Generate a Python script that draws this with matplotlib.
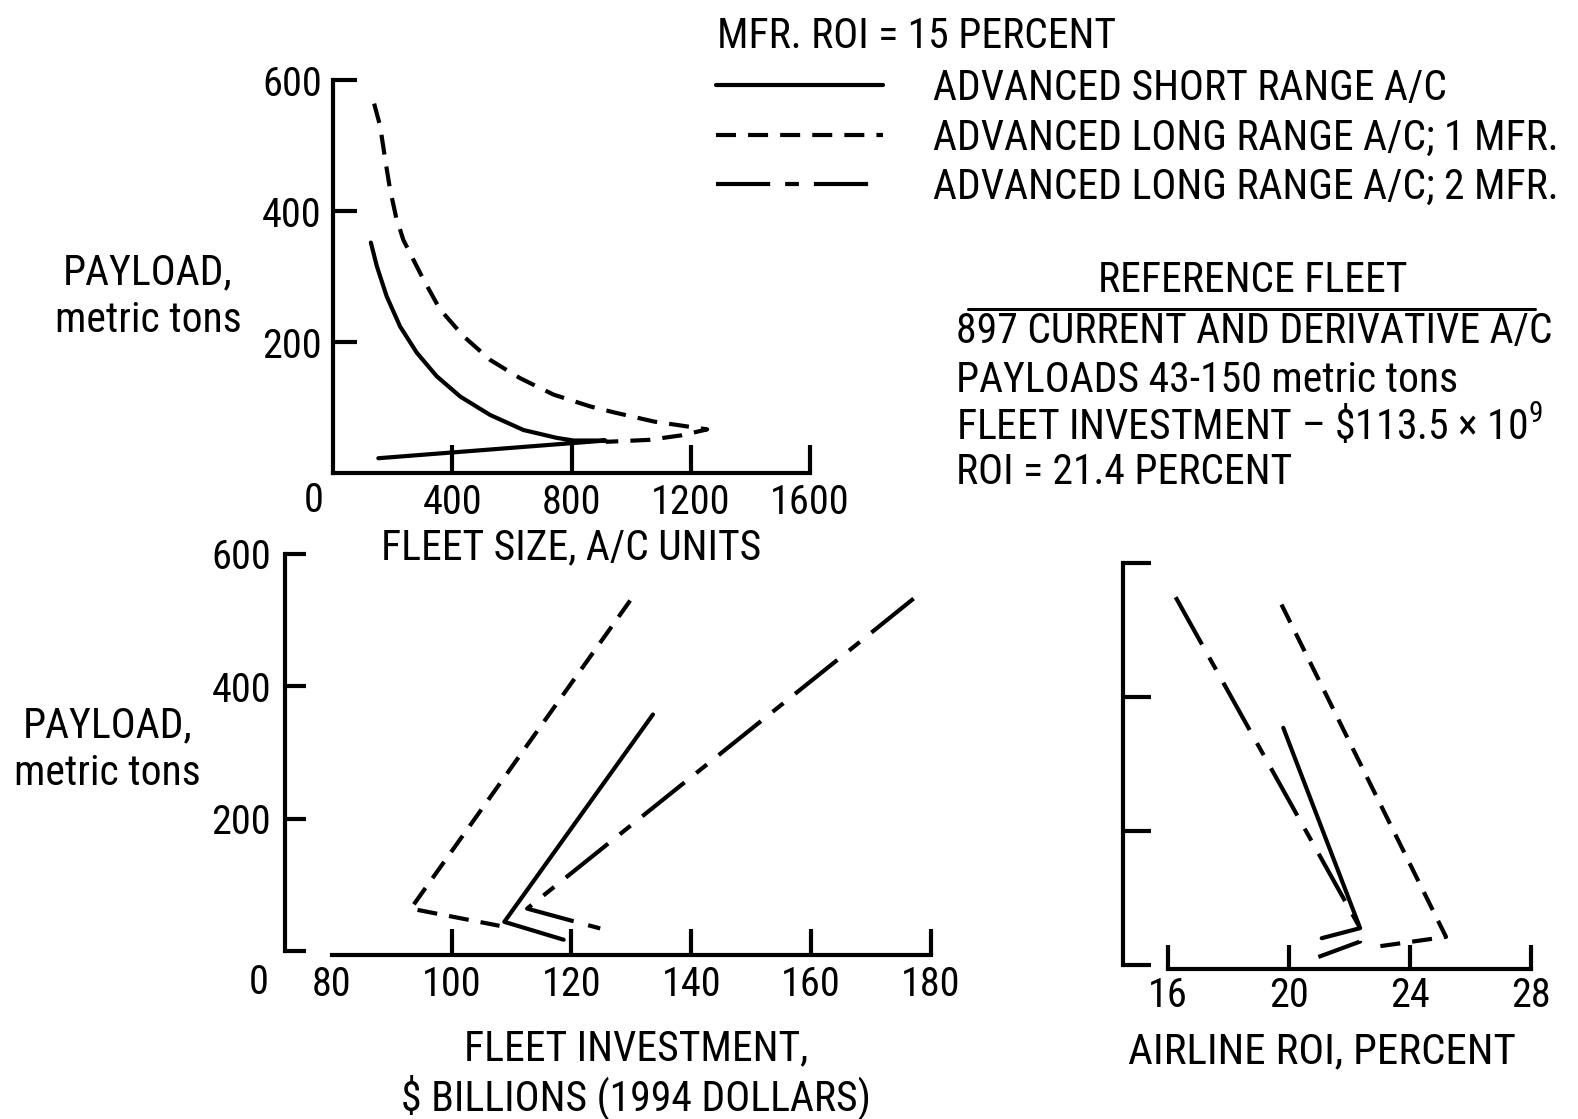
import matplotlib
matplotlib.use("Agg")
import matplotlib.pyplot as plt
from matplotlib import font_manager
from matplotlib.lines import Line2D

# ---- data ----
# top panel: payload (metric tons) vs fleet size (A/C units)
short_fleet = [127, 147, 180, 225, 281, 348, 427, 527, 639, 751, 807, 914, 152]
short_fleet_payload = [352, 316, 270, 224, 184, 148, 117, 89, 66, 54, 50, 50, 23]
long1_fleet = [138, 158, 175, 191, 212, 236, 303, 359, 438, 527, 628, 740, 863, 942,
               1076, 1255, 1170, 1060, 915]
long1_fleet_payload = [564, 530, 479, 434, 390, 356, 296, 250, 209, 173, 145, 120, 102, 93,
                       79, 67, 58, 51, 48]

# bottom left: payload vs fleet investment ($ billions, 1994 dollars)
short_invest = [133.6, 108.8, 118.7]
short_invest_payload = [357, 44, 17]
long1_invest = [129.8, 93.2, 108.0]
long1_invest_payload = [529, 64, 38]
long2_invest = [177.1, 167.5, 112.6, 124.8]
long2_invest_payload = [532, 462, 64, 34]

# bottom right: payload vs airline ROI (percent)
short_roi = [19.81, 22.35, 21.08]
short_roi_payload = [354, 55, 40]
long1_roi = [19.75, 25.19, 22.68]
long1_roi_payload = [538, 42, 26]
long2_roi = [16.25, 22.35, 22.35, 20.97]
long2_roi_payload = [549, 55, 35, 12]

legend_title = "MFR. ROI = 15 PERCENT"
series_labels = [
    "ADVANCED SHORT RANGE A/C",
    "ADVANCED LONG RANGE A/C; 1 MFR.",
    "ADVANCED LONG RANGE A/C; 2 MFR.",
]
ref_fleet_title = "REFERENCE FLEET"
ref_fleet_lines = [
    "897 CURRENT AND DERIVATIVE A/C",
    "PAYLOADS 43-150 metric tons",
    r"FLEET INVESTMENT – \$113.5 × 10$^9$",
    "ROI = 21.4 PERCENT",
]

W, H = 1578, 1119


def pick_font():
    names = {f.name for f in font_manager.fontManager.ttflist}
    for name in ("Liberation Sans Narrow", "Roboto Condensed", "Open Sans Condensed"):
        if name in names:
            return name, "normal"
    return "DejaVu Sans", "condensed"


FONT, STRETCH = pick_font()
FS = 30      # text
FS_TICK = 29
plt.rcParams.update(
    {
        "font.family": [FONT, "DejaVu Sans"],
        "font.stretch": STRETCH,
        "font.size": FS,
        "mathtext.fontset": "custom",
        "mathtext.rm": FONT,
        "mathtext.default": "regular",
        "axes.linewidth": 3,
        "lines.linewidth": 3,
        "lines.solid_joinstyle": "round",
        "lines.dash_joinstyle": "round",
        "lines.solid_capstyle": "round",
    }
)

SHORT = dict(color="black", linestyle="-")
LONG1 = dict(color="black", linestyle=(0, (4.8, 2.9)))
LONG2 = dict(color="black", linestyle=(0, (13, 3.6, 3.3, 3.6)))


def frac_box(x0, y_top, x1, y_bot):
    return [x0 / W, 1 - y_bot / H, (x1 - x0) / W, (y_bot - y_top) / H]


def style_axes(ax, xlim, xbounds, xticks, yticks, ylabels, xlen, ylen, xpad, ypad, outward=0):
    ax.set_xlim(*xlim)
    ax.set_ylim(0, 600)
    ax.patch.set_visible(False)
    for s in ("top", "right"):
        ax.spines[s].set_visible(False)
    ax.spines["bottom"].set_bounds(*xbounds)
    ax.spines["left"].set_bounds(0, 600)
    if outward:
        ax.spines["bottom"].set_position(("outward", outward))
    ax.set_xticks(xticks)
    ax.set_yticks(yticks, ylabels)
    ax.tick_params(axis="x", direction="in", length=xlen, width=3, pad=xpad, labelsize=FS_TICK)
    ax.tick_params(axis="y", direction="in", length=ylen, width=3, pad=ypad, labelsize=FS_TICK)


def put_xlabel(ax, text, x, y, **kw):
    ax.set_xlabel(text, va="center", **kw)
    ax.xaxis.set_label_coords(x, y)


def put_ylabel(ax, text, x, y):
    ax.set_ylabel(text, rotation=0, ha="center", va="center")
    ax.yaxis.set_label_coords(x, y)


fig = plt.figure(figsize=(W / 100, H / 100), dpi=100)

# ---- top: fleet size ----
ax_size = fig.add_axes(frac_box(333, 80, 810, 473.3))
l_short, = ax_size.plot(short_fleet, short_fleet_payload, **SHORT)
l_long1, = ax_size.plot(long1_fleet, long1_fleet_payload, **LONG1)
style_axes(ax_size, (0, 1600), (0, 1600), [400, 800, 1200, 1600],
           [200, 400, 600], ["200", "400", "600"], 20, 17, 7, 8)
ax_size.text(-0.040, -0.068, "0", transform=ax_size.transAxes, ha="center", va="center",
             fontsize=FS_TICK)
put_xlabel(ax_size, "FLEET SIZE, A/C UNITS", 0.50, -0.19)
put_ylabel(ax_size, "PAYLOAD,\nmetric tons", -0.388, 0.45)

# ---- bottom left: fleet investment ----
ax_inv = fig.add_axes(frac_box(285, 553.5, 931, 951))
ax_inv.plot(short_invest, short_invest_payload, **SHORT)
ax_inv.plot(long1_invest, long1_invest_payload, **LONG1)
l_long2, = ax_inv.plot(long2_invest, long2_invest_payload, **LONG2)
style_axes(ax_inv, (72.2, 180), (80, 180), [80, 100, 120, 140, 160, 180],
           [0, 200, 400, 600], ["", "200", "400", "600"], 19, 15, 7, 10, outward=3)
ax_inv.xaxis.get_major_ticks()[0].tick1line.set_visible(False)
ax_inv.text(-0.040, -0.078, "0", transform=ax_inv.transAxes, ha="center", va="center",
            fontsize=FS_TICK)
put_xlabel(ax_inv, "FLEET INVESTMENT,\n\\$ BILLIONS (1994 DOLLARS)", 0.543, -0.31,
           linespacing=1.15)
put_ylabel(ax_inv, "PAYLOAD,\nmetric tons", -0.275, 0.506)

# ---- bottom right: airline ROI ----
ax_roi = fig.add_axes(frac_box(1123, 563, 1531, 965))
ax_roi.plot(short_roi, short_roi_payload, **SHORT)
ax_roi.plot(long1_roi, long1_roi_payload, **LONG1)
ax_roi.plot(long2_roi, long2_roi_payload, **LONG2)
style_axes(ax_roi, (14.51, 28), (16, 28), [16, 20, 24, 28],
           [0, 200, 400, 600], ["", "", "", ""], 17, 20, 5, 8, outward=3)
put_xlabel(ax_roi, "AIRLINE ROI, PERCENT", 0.488, -0.215, fontsize=31)

# ---- legend ----
fig.text(717 / W, 1 - 36 / H, legend_title, ha="left", va="center")
fig.legend(
    handles=[l_short, l_long1, l_long2],
    labels=series_labels,
    fontsize=FS,
    loc="upper left",
    bbox_to_anchor=(716 / W, 1 - 68 / H),
    frameon=False,
    borderpad=0,
    borderaxespad=0,
    handlelength=4.0,
    handletextpad=1.2,
    labelspacing=0.2,
)

# ---- reference fleet block ----
fig.text(1253 / W, 1 - 280 / H, ref_fleet_title, ha="center", va="center")
fig.add_artist(Line2D([968 / W, 1535 / W], [1 - 309 / H, 1 - 309 / H],
                      color="black", linewidth=2.2, transform=fig.transFigure))
for i, line in enumerate(ref_fleet_lines):
    y = [332, 380, 426, 472][i]
    fig.text(956 / W, 1 - y / H, line, ha="left", va="center")

fig.savefig("out.png", dpi=100)
